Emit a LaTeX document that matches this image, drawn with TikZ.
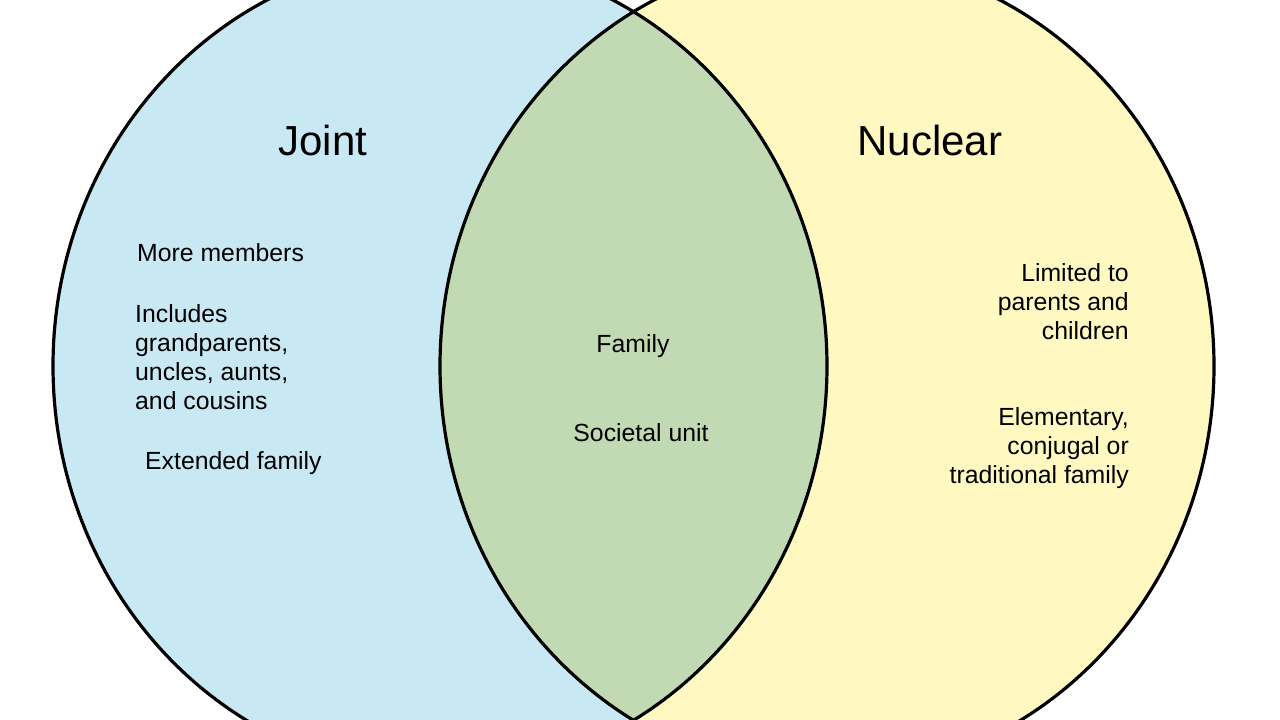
\documentclass[tikz,border=0pt]{standalone}
\usepackage{fontspec}
\setmainfont{Liberation Sans}
\definecolor{jblue}{HTML}{C8E8F3}
\definecolor{nyellow}{HTML}{FFF9C1}
\definecolor{bgreen}{HTML}{C1DAB3}
\begin{document}
\begin{tikzpicture}[x=1pt,y=-1pt,
  small/.style={inner sep=0pt,font=\fontsize{24.8}{29}\selectfont},
  title/.style={inner sep=0pt,font=\fontsize{42}{48}\selectfont},
  outline/.style={draw=black,line width=3.2pt}]
\useasboundingbox (0,0) rectangle (1280,720);
\clip (0,0) rectangle (1280,720);
\fill[jblue] (440,366) ellipse [x radius=387pt, y radius=409pt];
\fill[nyellow] (827,366) ellipse [x radius=387pt, y radius=409pt];
\begin{scope}
  \clip (440,366) ellipse [x radius=387pt, y radius=409pt];
  \fill[bgreen] (827,366) ellipse [x radius=387pt, y radius=409pt];
\end{scope}
\draw[outline] (440,366) ellipse [x radius=387pt, y radius=409pt];
\draw[outline] (827,366) ellipse [x radius=387pt, y radius=409pt];
% titles
\node[title,anchor=base] (joint) at (323,155) {Joint};
\node[title,anchor=base] (nuclear) at (930,155) {Nuclear};
% left
\node[small,anchor=base west] (l1) at (137,261) {More members};
\node[small,anchor=base west] (l2) at (135,322) {Includes};
\node[small,anchor=base west] (l3) at (135,351) {grandparents,};
\node[small,anchor=base west] (l4) at (135,380) {uncles, aunts,};
\node[small,anchor=base west] (l5) at (135,409) {and cousins};
\node[small,anchor=base west] (l6) at (145,469) {Extended family};
% centre
\node[small,anchor=base] (c1) at (633,352) {Family};
\node[small,anchor=base] (c2) at (641,441) {Societal unit};
% right
\node[small,anchor=base east] (r1) at (1129,281) {Limited to};
\node[small,anchor=base east] (r2) at (1129,310) {parents and};
\node[small,anchor=base east] (r3) at (1129,339) {children};
\node[small,anchor=base east] (r4) at (1129,425) {Elementary,};
\node[small,anchor=base east] (r5) at (1129,454) {conjugal or};
\node[small,anchor=base east] (r6) at (1129,483) {traditional family};
\end{tikzpicture}
\end{document}
